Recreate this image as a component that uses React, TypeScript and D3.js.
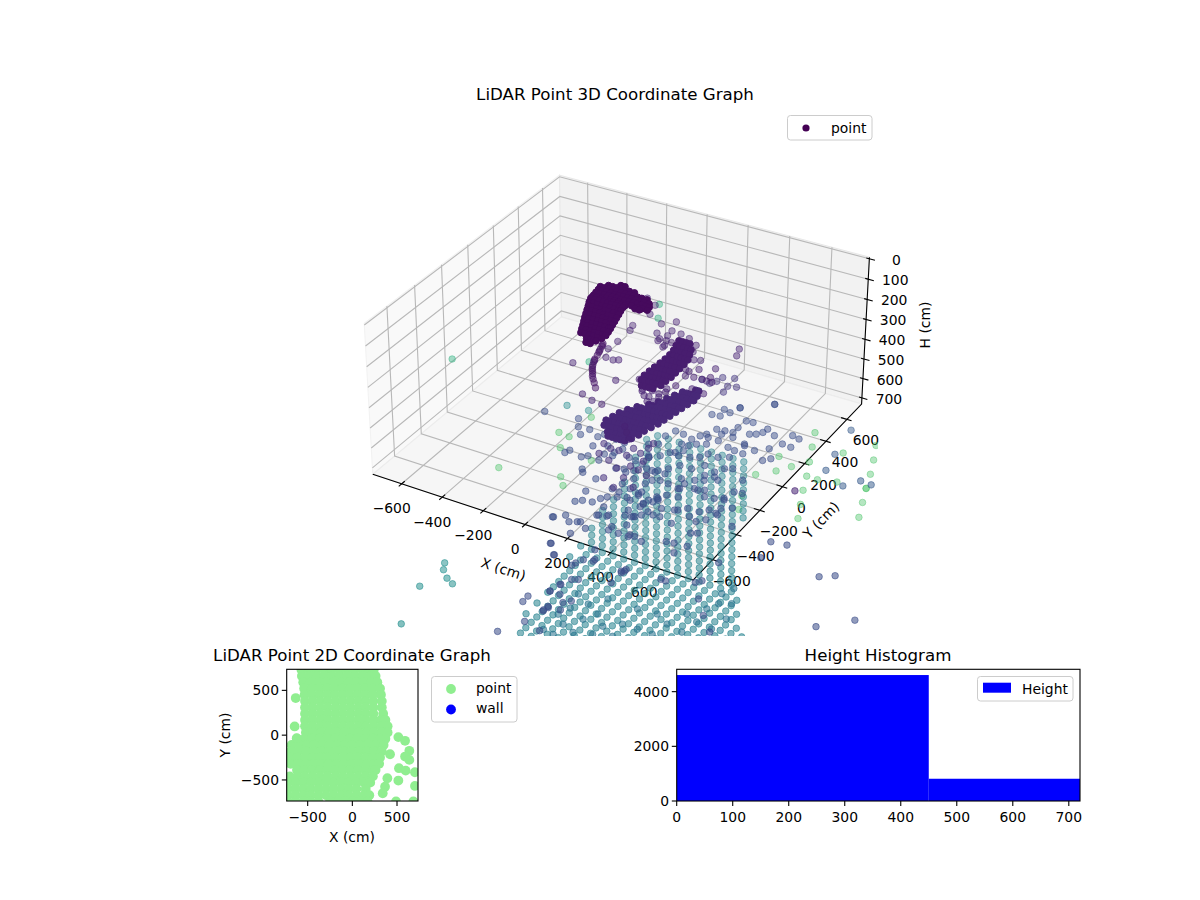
import React from "react";
import * as d3 from "d3";

const FONT = "'DejaVu Sans', sans-serif";
const title3d = "LiDAR Point 3D Coordinate Graph";
const title2d = "LiDAR Point 2D Coordinate Graph";
const titleHist = "Height Histogram";
const xTicks3d = [-600, -400, -200, 0, 200, 400, 600];
const yTicks3d = [-600, -400, -200, 0, 200, 400, 600];
const hTicks3d = [0, 100, 200, 300, 400, 500, 600, 700];
const xLim3d = [-745, 775];
const yLim3d = [-760, 743];
const hLim3d = [-8, 732];
const ticks2d = [-500, 0, 500];
const lim2d = [-735, 735];
const histBins = [0, 450, 900];
const histCounts = [4608, 814];
const histXTicks = [0, 100, 200, 300, 400, 500, 600, 700];
const histYTicks = [0, 2000, 4000];

type Row = [number, number[]];
// dense returns, rows of [y, xs]
const handHeight = 30;
const handRows: Row[] = [
  [75, [-40, -20]],
  [50, [-85, -65, -45, -25, -5, 15, 40]],
  [25, [-110, -90, -70, -50, -30, -10, 10, 30, 50, 70, 90, 115]],
  [0, [-105, -85, -65, -45, -25, -5, 15, 35, 55, 75, 95, 115, 140]],
  [-25, [-102, -82, -62, -42, -22, -2, 18, 38, 58, 78, 98, 118, 138, 155]],
  [-50, [-98, -78, -58, -38, -18, 2, 22, 42, 60, 85, 110, 135, 160]],
  [-65, [-96, -76, -56, -36, -16, 4, 24, 44, 60, 110, 130]],
  [-80, [-95, -75, -55, -35, -15, 5, 25, 45, 60]],
  [-110, [-85, -65, -45, -25, -5, 15, 35, 55, 67]],
  [-140, [-72, -52, -32, -12, 8, 28, 48, 68, 75]],
  [-170, [-60, -40, -20, 0, 20, 40, 60, 82]],
  [-200, [-48, -28, -8, 12, 32, 52, 72, 90]],
  [-230, [-36, -16, 4, 24, 44, 64, 84, 97]],
  [-260, [-23, -3, 17, 37, 57, 77, 97, 105]],
  [-290, [-10, 10, 30, 50, 70, 90, 112]],
  [-320, [2, 22, 42, 62, 82, 102, 118]],
  [-350, [15, 35, 55, 75, 95, 115]],
  [-380, [60, 78, 95, 105]],
  [-410, [75, 95]],
];
const stripHeight = 70;
const stripPoints: [number, number][] = [
  [106, -323], [113, -345], [120, -370], [128, -395], [135, -420], [142, -452], [150, -475],
  [160, -500], [175, -530], [195, -561], [205, -580], [220, -600], [240, -625], [266, -659],
  [110, -335], [125, -385], [146, -462], [167, -515], [185, -545],
];
const midSnakeHeight = 100;
const midSnakeRows: Row[] = [
  [-100, [342, 360, 378, 395]],
  [-140, [352, 370, 388, 406, 424]],
  [-180, [363, 381, 399, 417, 440]],
  [-220, [368, 386, 404, 422, 440, 455]],
  [-260, [369, 387, 405, 423, 441, 460]],
  [-300, [368, 386, 404, 422, 440, 462]],
  [-340, [365, 383, 401, 419, 437, 465]],
  [-380, [363, 381, 399, 417, 435, 453, 468]],
  [-420, [362, 380, 398, 416, 434, 452, 465]],
  [-460, [370, 388, 406, 424, 442, 465]],
  [-500, [395, 413, 431, 450]],
];
const sweepHeight = 140;
const sweepRows: Row[] = [
  [-360, [575, 590]],
  [-400, [535, 555, 575, 590, 605]],
  [-440, [520, 540, 560, 580, 600, 612]],
  [-480, [505, 525, 545, 565, 585, 605]],
  [-520, [488, 508, 528, 548, 568, 588, 600]],
  [-560, [465, 485, 505, 525, 545, 565, 585, 595]],
  [-600, [432, 452, 472, 492, 512, 532, 552, 572, 590]],
  [-640, [410, 430, 450, 470, 490, 510, 530, 550, 570, 585]],
  [-680, [393, 413, 433, 453, 473, 493, 513, 533, 553, 580]],
  [-720, [385, 405, 425, 445, 465, 485, 505, 525, 545, 570]],
  [-760, [376, 396, 416, 436, 456, 476, 496, 516, 536, 560]],
  [-800, [390, 410, 430, 450, 470, 490, 510, 530, 556]],
  [-840, [430, 450, 470, 490, 510, 530, 545]],
  [-870, [450, 470, 490, 510, 530]],
];
const nearPurpleHeight = 120;
const nearPurple: [number, number][] = [
  [31, 172], [89, 137], [108, 62], [93, -55], [104, -96], [106, -201], [102, -273], [130, -340],
  [167, -344], [187, -332], [33, -447], [262, -485], [199, -652], [260, -678], [312, -686],
  [236, 61], [190, 16], [213, -60], [258, -13], [304, -17], [248, -112], [278, -95], [293, -148],
  [422, -120], [486, -167], [459, -176], [575, -196], [570, -299], [593, -269], [618, -301],
  [470, -263], [496, -310], [395, -492], [438, -484], [428, -535], [492, -467], [502, -400],
  [574, -389], [636, -400], [488, -516], [578, -5], [597, -59], [1374, -910], [520, -837], [557, -882], [489, -799],
  [402, -507], [451, -534], [475, -493], [483, -441], [343, -429], [464, -572], [489, -558], [490, -270],
  [532, -302], [518, -235], [594, -303], [246, -95], [292, -133], [262, -57], [305, -98], [353, -33], [406, -67],
];
const hangingHeight = 180;
const hanging: [number, number][] = [
  [430, -870], [475, -891], [513, -888], [561, -907], [557, -843], [603, -864], [517, -979], [578, -1018],
  [620, -975], [664, -987], [646, -914], [453, -950], [717, -1011], [643, -1073], [718, -1122], [647, -1163],
  [571, -1114], [611, -812], [609, -767],
];
const bluePurpleHeight = 200;
const bluePurple: [number, number][] = [
  [567, -123], [614, -105], [621, -175], [657, -163], [630, -225], [561, -162], [544, -191], [500, -180],
];
const blueHeight = 300;
const blueTop: [number, number][] = [
  [780, -57], [669, -153], [668, -153], [618, -197], [652, -208], [779, -57], [594, -258], [630, -252],
  [745, -233], [776, -230], [744, -341], [811, -319], [835, -305], [852, -279], [856, -246], [907, -278],
  [942, -381], [970, -320], [1014, -326], [1010, -251], [973, -240], [742, -296], [708, -346], [672, -352],
  [656, -408], [639, -433], [622, -474], [572, -456], [530, -449], [514, -505], [523, -578], [606, -529],
  [637, -527], [660, -499], [696, -478], [725, -430], [787, -456], [824, -466], [867, -471], [840, -410],
  [833, -523], [792, -547], [742, -544], [726, -585], [690, -605], [642, -617], [599, -612], [576, -655],
  [487, -598], [534, -679], [582, -776], [630, -764], [660, -731], [688, -684], [743, -683], [777, -632],
  [840, -658], [862, -614], [892, -597], [966, -477], [989, -448], [975, -657], [992, -757], [1028, -751],
  [886, -709], [818, -702], [802, -757], [747, -773], [720, -836], [677, -829], [658, -949], [740, -995],
  [761, -920], [810, -908], [854, -820], [905, -853], [947, -844], [982, -823], [892, -969], [947, -969],
  [976, -936], [1012, -900], [1053, -876], [851, -1008], [797, -1024], [710, -1026], [684, -1104], [650, -1031],
  [744, -961], [782, -847], [617, -601], [639, -572], [675, -428], [710, -377], [764, -376], [833, -399],
  [896, -424], [860, -693], [836, -738], [779, -802], [776, -850], [668, -773], [625, -781], [541, -691],
  [751, -973], [863, -1001], [835, -816], [878, -806], [989, -835], [1126, -1004], [1014, -945], [1004, -1137],
  [985, -1241], [1046, -1237], [723, -1144], [660, -979], [762, -1075],
];
const blueLeft: [number, number][] = [
  [-24, -582], [128, -563], [161, -621], [213, -616], [200, -670], [272, -650], [287, -620], [349, -631],
  [393, -637], [218, -830], [226, -803], [295, -826], [315, -805], [292, -725], [367, -759], [397, -727],
  [372, -813], [348, -910], [364, -932], [438, -951], [467, -835], [500, -823], [541, -814], [452, -1058],
  [455, -1152], [478, -1130], [520, -1121], [536, -1080], [582, -1132], [590, -1035], [628, -1018], [631, -1190],
  [478, -1269], [441, -1306], [547, -1291], [604, -1321], [597, -1200], [692, -1254], [541, -1497], [517, -1308],
  [600, -1571], [706, -1609], [711, -1584], [766, -1521], [916, -1559], [921, -1540], [745, -1766], [733, -1835],
  [782, -1837], [674, -1916], [678, -1965], [787, -1981], [789, -1947], [848, -1946], [766, -2101], [709, -2227],
  [858, -2135], [346, -694], [404, -754], [413, -686], [471, -732], [507, -741], [519, -842], [575, -872],
  [545, -750], [542, -690], [554, -931], [603, -949], [653, -967], [637, -883], [648, -845], [538, -987],
  [576, -996], [554, -1055], [713, -1056], [716, -992], [729, -1139], [752, -1111], [791, -1274], [815, -1276],
  [607, -776], [733, -952], [794, -1087], [740, -1212],
];
const blueRight: [number, number][] = [
  [1648, -1178], [1702, -1138], [1956, -1410], [1842, -1536], [1330, -1032], [1402, -1022], [1359, -1165],
];
const blueOverFan: [number, number][] = [
  [733, -1835], [742, -1768], [764, -1709], [788, -1695], [851, -1861], [827, -1889], [790, -1989], [795, -1955],
  [726, -1452], [725, -1546], [767, -1536], [909, -1548], [920, -1526], [920, -1650], [1086, -1523], [1110, -1525],
  [1241, -1449], [1224, -1475], [1303, -1584], [1388, -1690], [1227, -1287], [1479, -1793], [714, -1031], [694, -1284],
  [792, -1290], [950, -1246], [1029, -1123], [1005, -1012], [1026, -953], [570, -1387], [437, -1308], [538, -1498],
  [597, -1572], [559, -1285], [591, -1204], [743, -1288], [633, -1180], [693, -1146], [735, -1136], [825, -1085],
  [894, -1108], [976, -1044], [932, -1023], [1025, -1310], [860, -1297],
];
const blueFarHeight = 350;
const blueFar: [number, number][] = [
  [1119, -7], [1159, -209], [1192, -340], [1361, -342], [1317, -414], [1415, -348],
];
const fanHeight = 560;
const fanRows: Row[] = [
  [-147, [267, 319, 371, 423, 475, 527, 579, 631, 683]],
  [-195, [242, 294, 346, 398, 450, 502, 554, 606, 658, 710]],
  [-243, [270, 322, 374, 426, 478, 530, 582, 634, 686, 738]],
  [-291, [298, 350, 402, 454, 506, 558, 610, 662, 714, 766]],
  [-339, [273, 325, 377, 429, 481, 533, 585, 637, 689, 741, 793]],
  [-387, [301, 353, 405, 457, 509, 561, 613, 665, 717, 769, 821]],
  [-435, [329, 381, 433, 485, 537, 589, 641, 693, 745, 797, 849]],
  [-483, [356, 408, 460, 512, 564, 616, 668, 720, 772, 824, 876]],
  [-531, [332, 384, 436, 488, 540, 592, 644, 696, 748, 800, 852, 904]],
  [-579, [360, 412, 464, 516, 568, 620, 672, 724, 776, 828, 880]],
  [-627, [387, 439, 491, 543, 595, 647, 699, 751, 803, 855, 907]],
  [-675, [363, 415, 467, 519, 571, 623, 675, 727, 779, 831, 883, 935]],
  [-723, [390, 442, 494, 546, 598, 650, 702, 754, 806, 858, 910, 962]],
  [-771, [366, 418, 470, 522, 574, 626, 678, 730, 782, 834, 886, 938, 990]],
  [-819, [394, 446, 498, 550, 602, 654, 706, 758, 810, 862, 914, 966, 1018]],
  [-867, [421, 473, 525, 577, 629, 681, 733, 785, 837, 889, 941, 993, 1045]],
  [-915, [397, 449, 501, 553, 605, 657, 709, 761, 813, 865, 917, 969, 1021, 1073]],
  [-963, [425, 477, 529, 581, 633, 685, 737, 789, 841, 893, 945, 997, 1049, 1101]],
  [-1011, [452, 504, 556, 608, 660, 712, 764, 816, 868, 920, 972, 1024, 1076, 1128]],
  [-1059, [428, 480, 532, 584, 636, 688, 740, 792, 844, 896, 948, 1000, 1052, 1104, 1156]],
  [-1107, [482, 534, 586, 638, 690, 742, 794, 846, 898, 950, 1002, 1054, 1106, 1158, 1210]],
  [-1155, [431, 483, 535, 587, 639, 691, 743, 795, 847, 899, 951, 1003, 1055, 1107, 1159, 1211]],
  [-1203, [485, 537, 589, 641, 693, 745, 797, 849, 901, 953, 1005, 1057, 1109, 1161, 1213, 1265]],
  [-1251, [487, 539, 591, 643, 695, 747, 799, 851, 903, 955, 1007, 1059, 1111, 1163, 1215, 1267]],
  [-1299, [488, 540, 592, 644, 696, 748, 800, 852, 904, 956, 1008, 1060, 1112, 1164, 1216, 1268, 1320]],
  [-1347, [490, 542, 594, 646, 698, 750, 802, 854, 906, 958, 1010, 1062, 1114, 1166, 1218, 1270, 1322, 1374]],
  [-1395, [492, 544, 596, 648, 700, 752, 804, 856, 908, 960, 1012, 1064, 1116, 1168, 1220, 1272, 1324, 1376, 1428]],
  [-1443, [493, 545, 597, 649, 701, 753, 805, 857, 909, 961, 1013, 1065, 1117, 1169, 1221, 1273, 1325, 1377, 1429]],
  [-1491, [547, 599, 651, 703, 755, 807, 859, 911, 963, 1015, 1067, 1119, 1171, 1223, 1275, 1327, 1379, 1431, 1483]],
  [-1539, [497, 549, 601, 653, 705, 757, 809, 861, 913, 965, 1017, 1069, 1121, 1173, 1225, 1277, 1329, 1381, 1433, 1485]],
  [-1587, [550, 602, 654, 706, 758, 810, 862, 914, 966, 1018, 1070, 1122, 1174, 1226, 1278, 1330, 1382, 1434, 1486, 1538]],
  [-1635, [500, 552, 604, 656, 708, 760, 812, 864, 916, 968, 1020, 1072, 1124, 1176]],
  [-1683, [553, 605, 657, 709, 761, 813, 865, 917, 969, 1021, 1073, 1125, 1177]],
  [-1731, [555, 607, 659, 711, 763, 815, 867, 919, 971, 1023, 1075]],
  [-1779, [557, 609, 661, 713, 765, 817, 869, 921, 973, 1025]],
];
const fanDarkHeight = 480;
const fanDark: [number, number][] = [
  [698, -1830], [753, -1844], [748, -1753], [817, -1789], [800, -1677], [896, -1762], [900, -1685], [976, -1734],
  [690, -1694], [709, -1627], [758, -1562], [833, -1611], [963, -1630], [1037, -1634], [1111, -1638], [1124, -1537],
  [1210, -1562], [1223, -1461], [1305, -1479], [1318, -1379], [1276, -1263], [1229, -1290], [1207, -1350], [1200, -1214],
  [1223, -1154], [1155, -1426], [1048, -1488], [956, -1494], [809, -1486], [682, -1513],
];
const tealOutHeight = 620;
const tealOut: [number, number][] = [
  [-49, -1368], [-26, -1417], [20, -1467], [62, -1494], [-47, -1578], [35, -1872],
];
const tealUpperHeight = 600;
const tealUpper: [number, number][] = [[-213, -74], [-115, -64]];
const palePlumeHeight = 800;
const palePlume: [number, number][] = [[-958, 254], [-452, 518], [-420, 1043], [-371, 949]];
const greenHeight = 900;
const greens: [number, number][] = [
  [566, 640], [611, 540], [746, 565], [658, 437], [572, 309], [611, 369], [703, 338], [755, 337], [744, 238],
  [835, 362], [789, 140], [834, 42], [1006, 281], [1050, 176], [965, 381], [965, 380], [926, 482], [883, 582],
  [836, 682], [512, 243], [543, 76], [527, 410], [585, -21], [-361, 113], [-298, 16], [-444, -242], [-185, -174],
  [-143, -227], [-308, 106], [-302, 279], [-136, -5],
];

// 2D panel: rows of [y, xs]
const planRows: Row[] = [
  [730, [-570, -485, -400, -315, -230, -145, -60, 25, 110, 195, 240]],
  [660, [-565, -480, -395, -310, -225, -140, -55, 30, 115, 200, 260]],
  [590, [-550, -465, -380, -295, -210, -125, -40, 45, 130, 215, 280]],
  [520, [-540, -455, -370, -285, -200, -115, -30, 55, 140, 225, 310]],
  [450, [-535, -450, -365, -280, -195, -110, -25, 60, 145, 230, 320]],
  [380, [-530, -445, -360, -275, -190, -105, -20, 65, 150, 235, 330]],
  [310, [-530, -445, -360, -275, -190, -105, -20, 65, 150, 235, 330]],
  [240, [-530, -445, -360, -275, -190, -105, -20, 65, 150, 235, 345]],
  [170, [-530, -445, -360, -275, -190, -105, -20, 65, 150, 235, 320, 370]],
  [100, [-530, -445, -360, -275, -190, -105, -20, 65, 150, 235, 320, 395]],
  [30, [-520, -435, -350, -265, -180, -95, -10, 75, 160, 245, 330, 395]],
  [-40, [-620, -535, -450, -365, -280, -195, -110, -25, 60, 145, 230, 315, 370]],
  [-110, [-680, -595, -510, -425, -340, -255, -170, -85, 0, 85, 170, 255, 350]],
  [-180, [-690, -605, -520, -435, -350, -265, -180, -95, -10, 75, 160, 245, 330]],
  [-250, [-700, -615, -530, -445, -360, -275, -190, -105, -20, 65, 150, 235, 310]],
  [-320, [-690, -605, -520, -435, -350, -265, -180, -95, -10, 75, 160, 245, 300]],
  [-390, [-620, -535, -450, -365, -280, -195, -110, -25, 60, 145, 230, 260]],
  [-460, [-700, -615, -530, -445, -360, -275, -190, -105, -20, 65, 150, 230]],
  [-530, [-720, -635, -550, -465, -380, -295, -210, -125, -40, 45, 130, 200]],
  [-600, [-720, -635, -550, -465, -380, -295, -210, -125, -40, 45, 150]],
  [-670, [-720, -635, -550, -465, -380, -295, -210, -125, -40, 45, 130, 190]],
  [-740, [-720, -635, -550, -465, -380, -250, -165, -80, 5, 90, 170]],
];
const planStray: [number, number][] = [
  [-634, 414], [-646, 97], [-623, -34], [515, -22], [590, -63], [638, -175], [422, -213], [590, -239], [638, -276],
  [522, -369], [597, -396], [701, -414], [392, -481], [515, -507], [701, -567], [366, -575], [340, -649], [489, -739], [683, -739],
];

// ---- view of the 3D axes
const ELEV = (31 * Math.PI) / 180;
const AZIM = (-60 * Math.PI) / 180;
const CAM = 15;
const DEPTH_RATIO = 0.48;
const nx = d3.scaleLinear().domain(xLim3d).range([-1, 1]);
const ny = d3.scaleLinear().domain(yLim3d).range([-1, 1]);
const nz = d3.scaleLinear().domain(hLim3d).range([DEPTH_RATIO, -DEPTH_RATIO]);
const sxP = d3.scaleLinear().domain([0, 1]).range([622.2, 622.2 + 2726.8]);
const syP = d3.scaleLinear().domain([0, 1]).range([365.2, 365.2 - 2713.2]);
const w = [Math.cos(ELEV) * Math.cos(AZIM), Math.cos(ELEV) * Math.sin(AZIM), Math.sin(ELEV)];
const hn = Math.hypot(w[0], w[1]);
const u = [-w[1] / hn, w[0] / hn, 0];
const v = [w[1] * u[2] - w[2] * u[1], w[2] * u[0] - w[0] * u[2], w[0] * u[1] - w[1] * u[0]];
const dot = (a: number[], b: number[]) => a[0] * b[0] + a[1] * b[1] + a[2] * b[2];
const depthOf = (x: number, y: number, h: number) => dot([nx(x), ny(y), nz(h)], w);
function project(x: number, y: number, h: number): [number, number] {
  const P = [nx(x), ny(y), nz(h)];
  const dd = CAM - dot(P, w);
  return [sxP(dot(P, u) / dd), syP(dot(P, v) / dd)];
}
const line3 = (pts: [number, number, number][]) => d3.line()(pts.map((p) => project(p[0], p[1], p[2])))!;
// values were read as if the view had no foreshortening; pull them back along the view
function settle(x: number, y: number, h: number): [number, number, number] {
  const k = CAM / (CAM + depthOf(x, y, h));
  return [(x - 15) * k + 15, (y + 8.5) * k - 8.5, h];
}
type P3 = [number, number, number, boolean];
const fromRows = (rows: Row[], h: number, dense = false) => rows.flatMap(([y, xs]) => xs.map((x) => [x, y, h, dense] as P3));
const fromPairs = (pairs: [number, number][], h: number) => pairs.map(([x, y]) => [x, y, h, false] as P3);
const cloud: P3[] = [
  ...fromRows(handRows, handHeight, true),
  ...fromPairs(stripPoints, stripHeight),
  ...fromRows(midSnakeRows, midSnakeHeight, true),
  ...fromRows(sweepRows, sweepHeight, true),
  ...fromPairs(nearPurple, nearPurpleHeight),
  ...fromPairs(hanging, hangingHeight),
  ...fromPairs(bluePurple, bluePurpleHeight),
  ...fromPairs(blueTop, blueHeight),
  ...fromPairs(blueLeft, blueHeight),
  ...fromPairs(blueRight, blueHeight),
  ...fromPairs(blueOverFan, blueHeight),
  ...fromPairs(blueFar, blueFarHeight),
  ...fromRows(fanRows, fanHeight),
  ...fromPairs(fanDark, fanDarkHeight),
  ...fromPairs(tealOut, tealOutHeight),
  ...fromPairs(tealUpper, tealUpperHeight),
  ...fromPairs(palePlume, palePlumeHeight),
  ...fromPairs(greens, greenHeight),
];
const colour = d3.scaleSequential(d3.interpolateViridis).domain([0, 1250]);
const shade = d3.scaleLinear().domain([0, 1.5]).range([0.42, 0.56]).clamp(true);
const marks = cloud
  .map(([x0, y0, h, dense]) => {
    const [x, y] = settle(x0, y0, h);
    const [px, py] = project(x, y, h);
    const depth = depthOf(x, y, h);
    return { px, py, c: colour(h) as string, depth, a: dense ? 1 : shade(depth) };
  })
  .sort((a, b) => a.depth - b.depth);

const fmt = (n: number) => String(n).replace("-", "\u2212");
const [x0, x1] = xLim3d, [y0, y1] = yLim3d, [h0, h1] = hLim3d;
const paneX = line3([[x0, y0, h1], [x0, y1, h1], [x0, y1, h0], [x0, y0, h0]]) + "Z";
const paneY = line3([[x0, y1, h1], [x1, y1, h1], [x1, y1, h0], [x0, y1, h0]]) + "Z";
const paneZ = line3([[x0, y0, h1], [x1, y0, h1], [x1, y1, h1], [x0, y1, h1]]) + "Z";

// ---- 2D axes
const planX = d3.scaleLinear().domain(lim2d).range([286.7, 418]);
const planY = d3.scaleLinear().domain(lim2d).range([801, 669.3]);
const planPts = [...planRows.flatMap(([y, xs]) => xs.map((x) => [x, y] as [number, number])), ...planStray];
const histX = d3.scaleLinear().domain([0, 720]).range([676.7, 1080]);
const histY = d3.scaleLinear().domain([0, 4818]).range([801, 669.3]);

const T: React.FC<any> = ({ children, ...p }) => (
  <text fontFamily={FONT} fontSize={13.9} fill="#000" {...p}>{children}</text>
);

export default function App() {
  return (
    <svg width={1200} height={900} viewBox="0 0 1200 900" style={{ position: "absolute", left: 0, top: 0, background: "#fff" }}>
      <defs>
        <clipPath id="c3d"><rect x={352} y={109} width={526} height={527} /></clipPath>
      </defs>
      <T x={615} y={100} fontSize={16.67} textAnchor="middle">{title3d}</T>

      {/* panes */}
      <path d={paneX} fill="#f9f9f9" stroke="#f2f2f2" strokeWidth={1.1} />
      <path d={paneY} fill="#f2f2f2" stroke="#e8e8e8" strokeWidth={1.1} />
      <path d={paneZ} fill="#f6f6f6" stroke="#ececec" strokeWidth={1.1} />

      {/* grid */}
      <g fill="none" stroke="#b8b8b8" strokeWidth={1.1}>
        {xTicks3d.map((t) => <path key={"gx" + t} d={line3([[t, y0, h1], [t, y1, h1], [t, y1, h0]])} />)}
        {yTicks3d.map((t) => <path key={"gy" + t} d={line3([[x1, t, h1], [x0, t, h1], [x0, t, h0]])} />)}
        {hTicks3d.map((t) => <path key={"gh" + t} d={line3([[x1, y1, t], [x0, y1, t], [x0, y0, t]])} />)}
      </g>

      {/* axis lines and ticks */}
      <g fill="none" stroke="#000" strokeWidth={1.1}>
        <path d={line3([[x0, y0, h1], [x1, y0, h1], [x1, y1, h1], [x1, y1, h0]])} />
        {xTicks3d.map((t) => <path key={"tx" + t} d={line3([[t, y0 - 22, h1], [t, y0 + 22, h1]])} />)}
        {yTicks3d.map((t) => <path key={"ty" + t} d={line3([[x1 - 28, t, h1], [x1 + 22, t, h1]])} />)}
        {hTicks3d.map((t) => <path key={"th" + t} d={line3([[x1 - 14, y1, t], [x1 + 26, y1, t]])} />)}
      </g>
      {xTicks3d.map((t) => {
        const [a, b] = project(t, y0, h1);
        return <T key={"lx" + t} x={a - 10} y={b + 29.5} textAnchor="middle">{fmt(t)}</T>;
      })}
      {yTicks3d.map((t) => {
        const [a, b] = project(x1, t, h1);
        return <T key={"ly" + t} x={a + 19} y={b + 26} textAnchor="middle">{fmt(t)}</T>;
      })}
      {hTicks3d.map((t) => {
        const [a, b] = project(x1, y1, t);
        return <T key={"lh" + t} x={a + 27} y={b + 6} textAnchor="middle">{fmt(t)}</T>;
      })}
      <T x={0} y={0} textAnchor="middle" dominantBaseline="central" transform="translate(503.5,569) rotate(18)">X (cm)</T>
      <T x={0} y={0} textAnchor="middle" dominantBaseline="central" transform="translate(821,520) rotate(-46)">Y (cm)</T>
      <T x={0} y={0} textAnchor="middle" dominantBaseline="central" transform="translate(925,325) rotate(-90)">H (cm)</T>

      {/* point cloud */}
      <g clipPath="url(#c3d)">
        {marks.map((m, i) => (
          <circle key={i} cx={m.px} cy={m.py} r={3.3} fill={m.c} stroke={m.c} strokeWidth={1}
            fillOpacity={m.a} strokeOpacity={m.a} />
        ))}
      </g>

      {/* 3D legend */}
      <rect x={787.5} y={115.5} width={84.5} height={24.5} rx={3} fill="#fff" fillOpacity={0.8} stroke="#cccccc" />
      <circle cx={806} cy={128} r={3.6} fill="#440154" />
      <T x={831} y={132.5}>point</T>

      {/* 2D panel */}
      <T x={352} y={661} fontSize={16.67} textAnchor="middle">{title2d}</T>
      <clipPath id="c2d"><rect x={286.7} y={669.3} width={131.3} height={131.7} /></clipPath>
      <g clipPath="url(#c2d)">
        {planPts.map(([x, y], i) => <circle key={i} cx={planX(x)} cy={planY(y)} r={4.9} fill="#90ee90" />)}
      </g>
      <rect x={286.7} y={669.3} width={131.3} height={131.7} fill="none" stroke="#000" strokeWidth={1.1} />
      {ticks2d.map((t) => (
        <g key={"p" + t}>
          <line x1={planX(t)} x2={planX(t)} y1={801} y2={806} stroke="#000" strokeWidth={1.1} />
          <T x={planX(t)} y={822} textAnchor="middle">{fmt(t)}</T>
          <line x1={281.8} x2={286.7} y1={planY(t)} y2={planY(t)} stroke="#000" strokeWidth={1.1} />
          <T x={279} y={planY(t) + 5} textAnchor="end">{fmt(t)}</T>
        </g>
      ))}
      <T x={352} y={842} textAnchor="middle">X (cm)</T>
      <T x={0} y={0} textAnchor="middle" dominantBaseline="central" transform="translate(225,735) rotate(-90)">Y (cm)</T>
      <rect x={431.5} y={676.5} width={85.5} height={45.5} rx={3} fill="#fff" stroke="#cccccc" />
      <circle cx={451} cy={689} r={4.9} fill="#90ee90" />
      <circle cx={451} cy={709.5} r={4.9} fill="#0000ff" />
      <T x={476} y={692.5}>point</T>
      <T x={476} y={713}>wall</T>

      {/* histogram */}
      <T x={878} y={661} fontSize={16.67} textAnchor="middle">{titleHist}</T>
      <clipPath id="chist"><rect x={676.7} y={669.3} width={403.3} height={131.7} /></clipPath>
      <g clipPath="url(#chist)">
        {histCounts.map((n, i) => (
          <rect key={i} x={histX(histBins[i])} y={histY(n)} width={histX(histBins[i + 1]) - histX(histBins[i])} height={801 - histY(n)} fill="#0000ff" />
        ))}
      </g>
      <rect x={676.7} y={669.3} width={403.3} height={131.7} fill="none" stroke="#000" strokeWidth={1.1} />
      {histXTicks.map((t) => (
        <g key={"hx" + t}>
          <line x1={histX(t)} x2={histX(t)} y1={801} y2={806} stroke="#000" strokeWidth={1.1} />
          <T x={histX(t)} y={822} textAnchor="middle">{t}</T>
        </g>
      ))}
      {histYTicks.map((t) => (
        <g key={"hy" + t}>
          <line x1={671.8} x2={676.7} y1={histY(t)} y2={histY(t)} stroke="#000" strokeWidth={1.1} />
          <T x={669} y={histY(t) + 5} textAnchor="end">{t}</T>
        </g>
      ))}
      <rect x={977.5} y={676.5} width={95.5} height={24.5} rx={3} fill="#fff" stroke="#cccccc" />
      <rect x={983} y={682.7} width={28} height={10} fill="#0000ff" />
      <T x={1022} y={693.5}>Height</T>
    </svg>
  );
}
